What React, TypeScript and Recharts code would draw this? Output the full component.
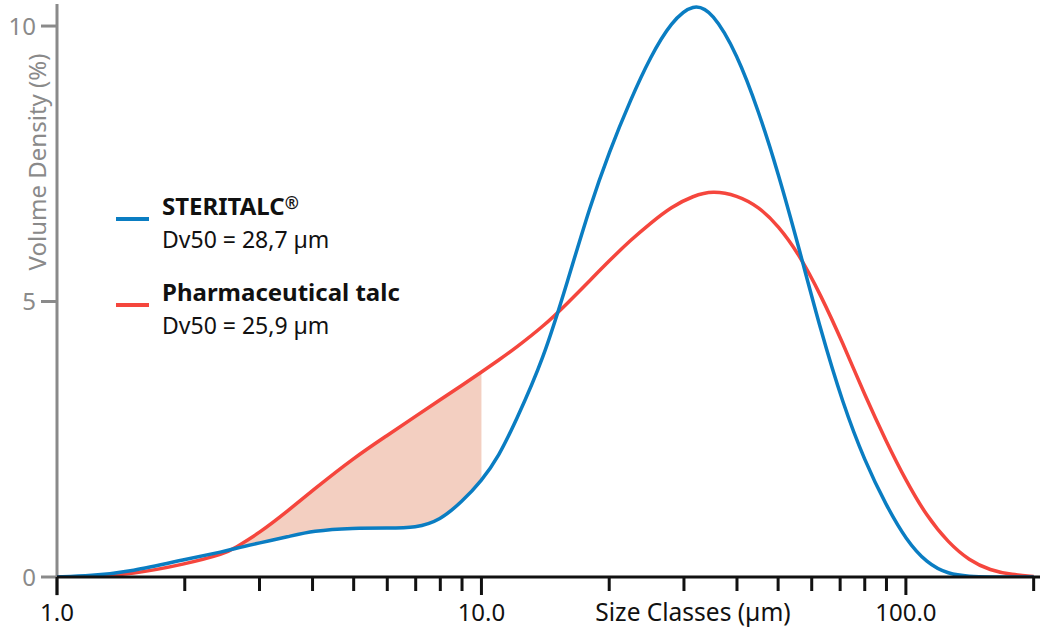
import React from 'react'
import { ComposedChart, Line, Area, XAxis, YAxis, ReferenceLine } from 'recharts'

// particle size classes (µm), log axis
const SIZES = [
  1, 1.2, 1.5, 2, 2.5, 2.6, 3, 3.5, 4, 5, 6, 7, 8, 9, 10, 11, 12, 14, 16, 18, 20,
  22.5, 25, 28, 31.6, 35, 40, 45, 50, 56, 63, 71, 80, 90, 100, 112, 126, 141, 158,
  178, 200,
]
// volume density (%)
const STERITALC = [
  0, 0.02, 0.1, 0.32, 0.47, 0.51, 0.62, 0.73, 0.84, 0.89, 0.89, 0.89, 1.03, 1.37,
  1.74, 2.2, 2.8, 3.95, 5.4, 6.72, 7.72, 8.68, 9.44, 10.08, 10.42, 10.26, 9.5,
  8.45, 7.34, 5.97, 4.47, 3.15, 2.1, 1.29, 0.68, 0.25, 0.05, 0.01, 0, 0, 0,
]
const PHARMA_TALC = [
  0, 0.01, 0.05, 0.23, 0.43, 0.51, 0.8, 1.2, 1.57, 2.16, 2.57, 2.92, 3.22, 3.48,
  3.72, 3.94, 4.15, 4.55, 4.98, 5.38, 5.74, 6.12, 6.42, 6.72, 6.92, 7.01, 6.93,
  6.72, 6.38, 5.86, 5.12, 4.25, 3.3, 2.45, 1.75, 1.1, 0.62, 0.3, 0.12, 0.04, 0.01,
]
const SHADE_FROM = 2.6
const SHADE_TO = 10

const X_TICKS = [1, 2, 3, 4, 5, 6, 7, 8, 9, 10, 20, 30, 40, 50, 60, 70, 80, 90, 100, 200]
const X_LABELS: Record<number, string> = { 1: '1.0', 10: '10.0', 100: '100.0' }
const Y_TICKS = [0, 5, 10]

const BLUE = '#0a7dc2'
const RED = '#f5463d'
const SHADE = '#f3cfc1'
const GREY = '#8a8a8a'
const FONT = '"Noto Sans", "Open Sans", sans-serif'

const data = SIZES.map((size, i) => ({
  size,
  steritalc: STERITALC[i],
  pharma: PHARMA_TALC[i],
  shade:
    size >= SHADE_FROM && size <= SHADE_TO ? [STERITALC[i], PHARMA_TALC[i]] : null,
}))

function SizeTick(props: any) {
  const { x, y, payload } = props
  const label = X_LABELS[payload.value]
  return (
    <g>
      <line x1={x} x2={x} y1={y} y2={y + (label ? 18 : 14)} stroke="#111" strokeWidth={3} />
      {label && (
        <text x={x} y={y + 44} textAnchor="middle" fontSize={24} fill="#111" fontFamily={FONT}>
          {label}
        </text>
      )}
    </g>
  )
}

function XLabel() {
  return (
    <text x={693} y={621} textAnchor="middle" fontSize={24.5} fill="#111" fontFamily={FONT}>
      Size Classes (µm)
    </text>
  )
}

function YLabel() {
  return (
    <text
      x={0}
      y={0}
      transform="translate(46 162) rotate(-90)"
      textAnchor="middle"
      fontSize={24}
      fill={GREY}
      fontFamily={FONT}
    >
      Volume Density (%)
    </text>
  )
}

function LegendOverlay() {
  return (
    <svg
      width={1042}
      height={631}
      style={{ position: 'absolute', left: 0, top: 0, pointerEvents: 'none' }}
    >
      <line x1={116} x2={149} y1={219} y2={219} stroke={BLUE} strokeWidth={4} />
      <text x={162} y={215} fontSize={24} fontWeight={700} fill="#111" fontFamily={FONT}>
        STERITALC<tspan fontSize={17} dy={-6}>®</tspan>
      </text>
      <text x={162} y={248} fontSize={23} fill="#111" fontFamily={FONT}>
        Dv50 = 28,7 µm
      </text>
      <line x1={116} x2={149} y1={305} y2={305} stroke={RED} strokeWidth={4} />
      <text x={162} y={301} fontSize={24} fontWeight={700} fill="#111" fontFamily={FONT}>
        Pharmaceutical talc
      </text>
      <text x={162} y={334} fontSize={23} fill="#111" fontFamily={FONT}>
        Dv50 = 25,9 µm
      </text>
    </svg>
  )
}

export default function App() {
  return (
    <div style={{ position: 'absolute', left: 0, top: 0, width: 1042, height: 631, background: '#fff' }}>
      <ComposedChart
        width={1042}
        height={631}
        data={data}
        margin={{ top: 4, right: 2, left: 0, bottom: 0 }}
      >
        <YAxis
          type="number"
          domain={[0, 10.4]}
          ticks={Y_TICKS}
          width={57}
          allowDataOverflow
          axisLine={false}
          tickLine={{ stroke: GREY, strokeWidth: 3 }}
          tickSize={16}
          tickMargin={5}
          tick={{ fill: GREY, fontSize: 24, fontFamily: FONT }}
          label={<YLabel />}
        />
        <ReferenceLine
          segment={[
            { x: 1, y: -0.33 },
            { x: 1, y: 10.4 },
          ]}
          ifOverflow="visible"
          stroke={GREY}
          strokeWidth={3}
        />
        <XAxis
          dataKey="size"
          type="number"
          scale="log"
          domain={[1, 207]}
          allowDataOverflow
          ticks={X_TICKS}
          interval={0}
          height={54}
          tickLine={false}
          tickSize={0}
          tickMargin={0}
          tick={<SizeTick />}
          axisLine={{ stroke: '#111', strokeWidth: 3 }}
          label={<XLabel />}
        />
        <Area
          dataKey="shade"
          type="basis"
          fill={SHADE}
          fillOpacity={1}
          stroke="none"
          isAnimationActive={false}
        />
        <Line
          dataKey="pharma"
          type="basis"
          stroke={RED}
          strokeWidth={3.5}
          dot={false}
          isAnimationActive={false}
        />
        <Line
          dataKey="steritalc"
          type="basis"
          stroke={BLUE}
          strokeWidth={3.5}
          dot={false}
          isAnimationActive={false}
        />
      </ComposedChart>
      <LegendOverlay />
    </div>
  )
}
